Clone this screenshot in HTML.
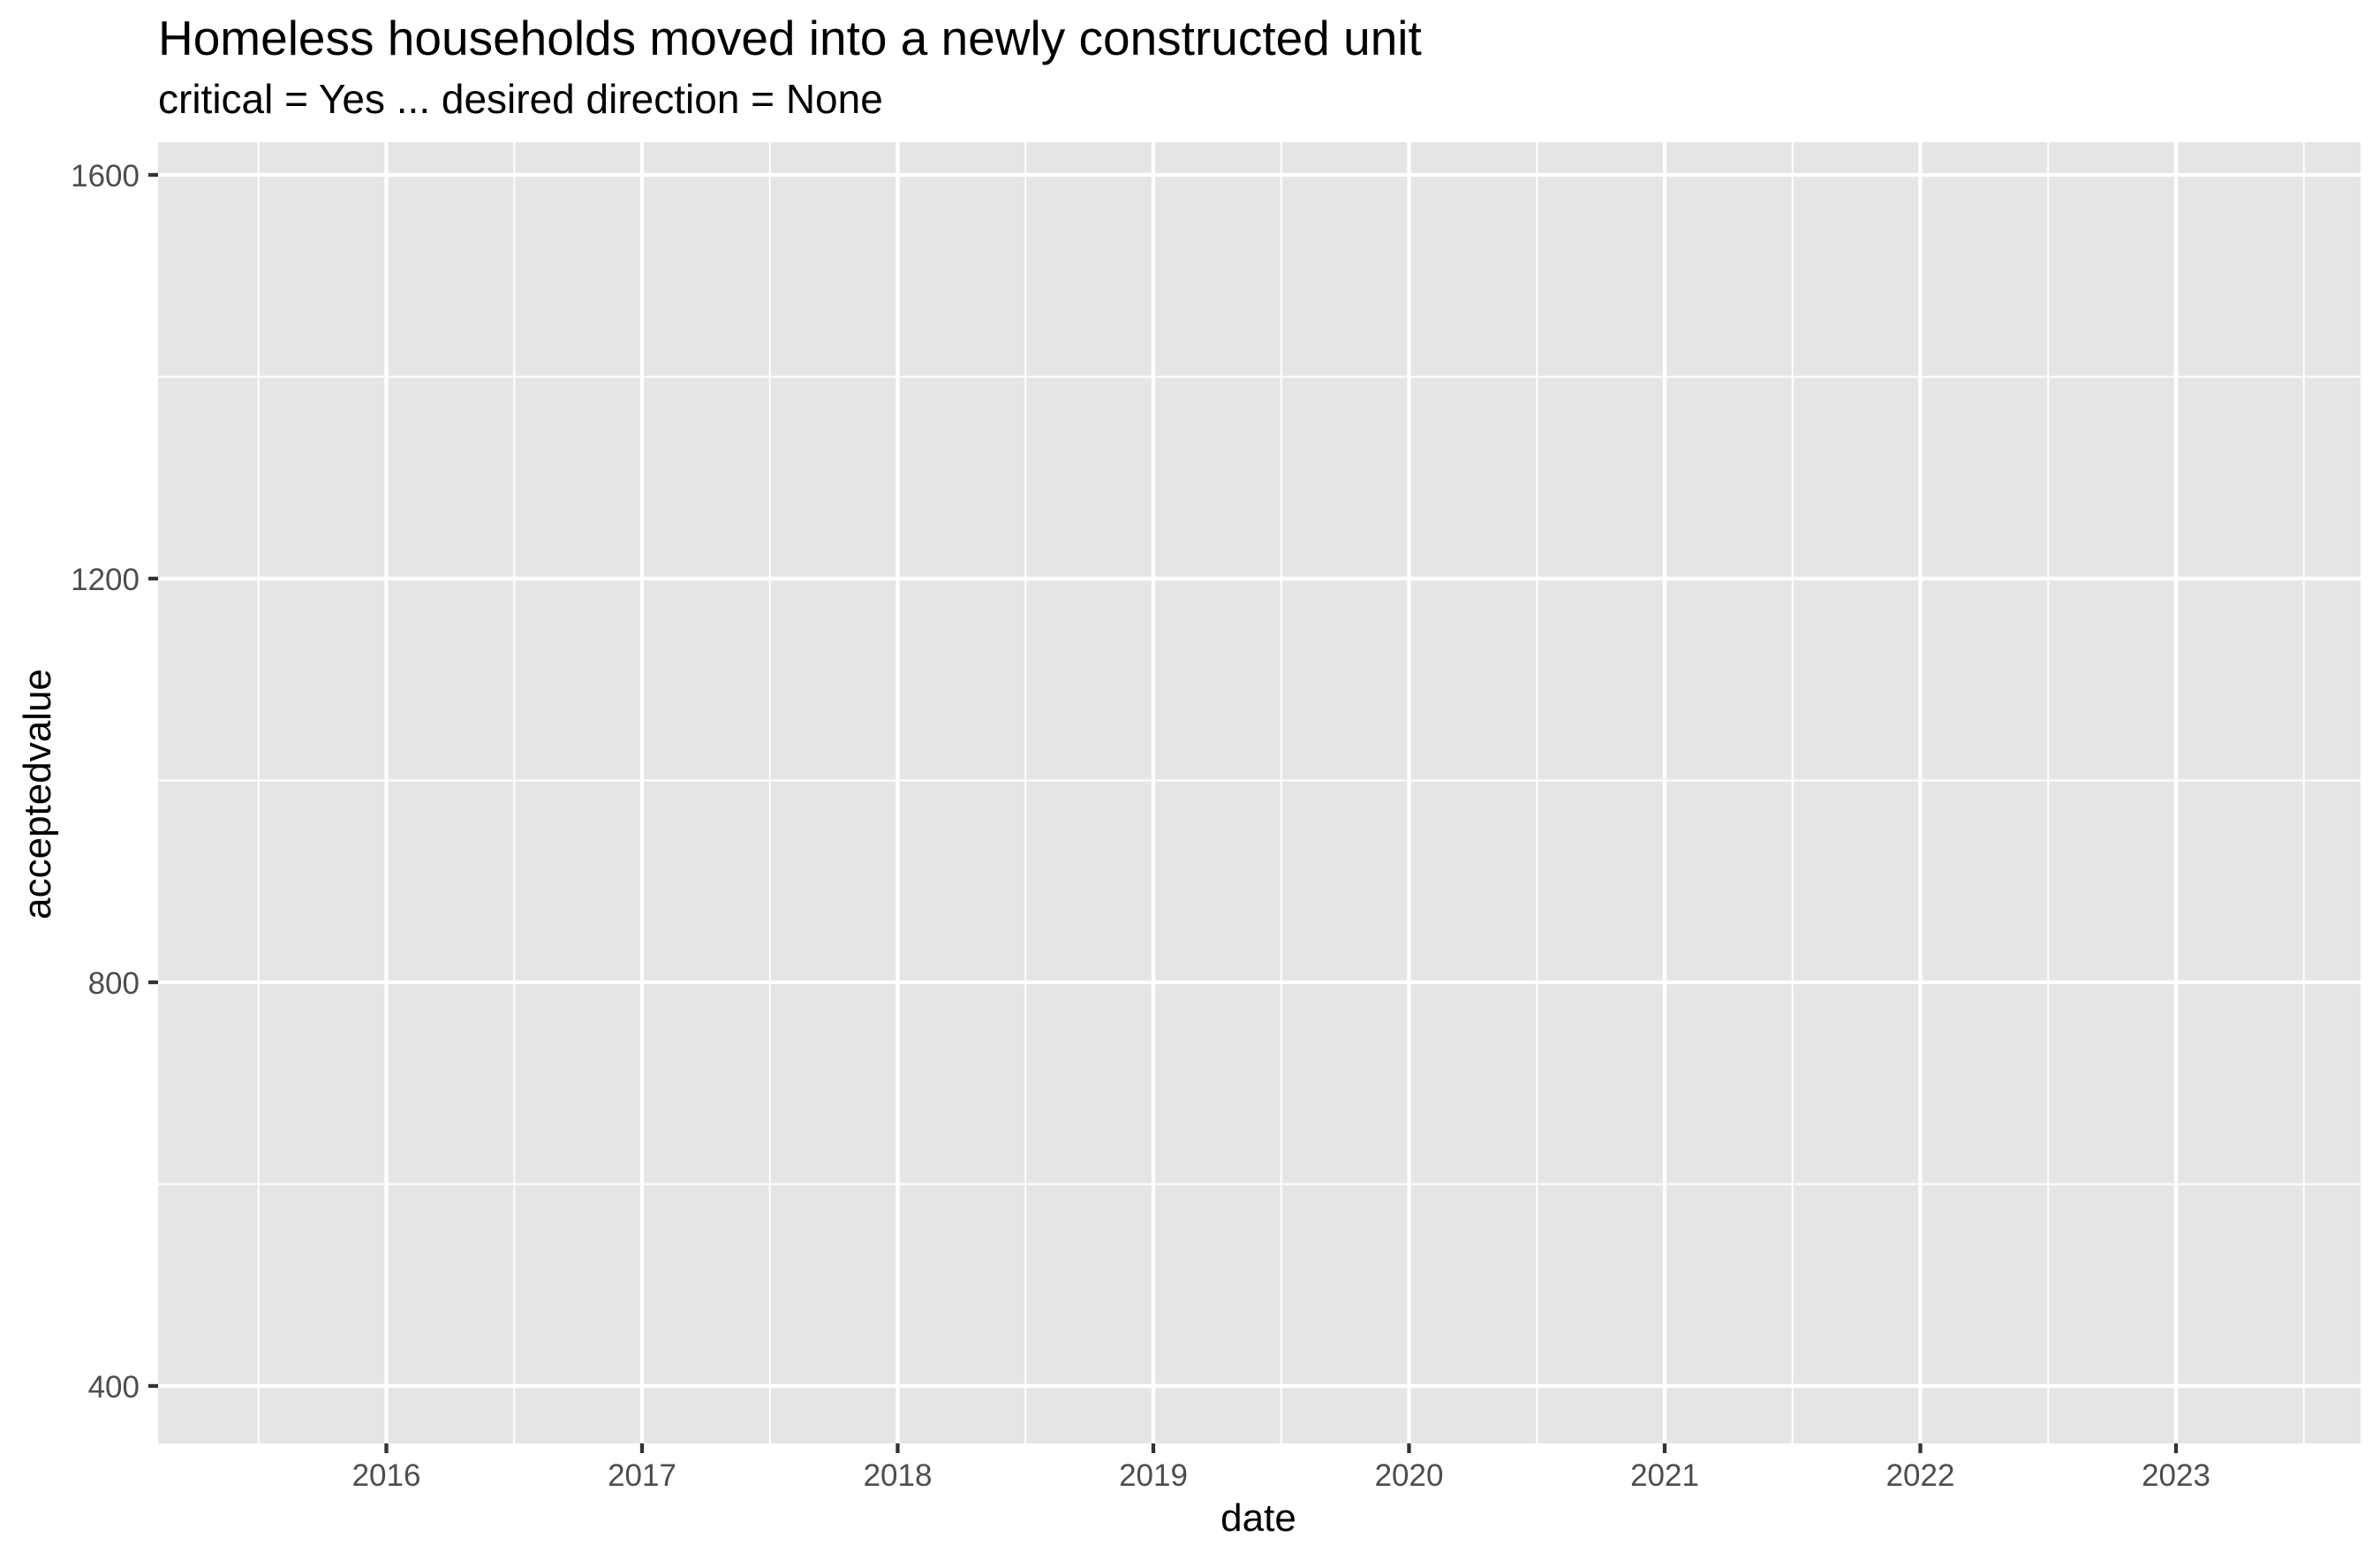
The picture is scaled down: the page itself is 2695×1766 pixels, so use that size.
<!DOCTYPE html>
<html><head><meta charset="utf-8">
<style>
html,body{margin:0;padding:0;background:#fff;}
svg{display:block;font-family:"Liberation Sans",Arial,sans-serif;}
</style></head>
<body>
<svg id="chart" width="2695" height="1766" viewBox="0 0 2695 1766" xmlns="http://www.w3.org/2000/svg">
<rect x="0" y="0" width="2695" height="1766" fill="#fff"/>
<text x="179" y="62" font-size="55" fill="#000">Homeless households moved into a newly constructed unit</text>
<text x="179" y="128" font-size="46" fill="#000">critical = Yes ... desired direction = None</text>
<rect x="179" y="161" width="2494" height="1473" fill="#e5e5e5"/>
<g id="grid"></g>
<g id="axes"></g>
<text x="1425" y="1733" font-size="44" text-anchor="middle" fill="#000">date</text>
<text transform="translate(57,899) rotate(-90)" font-size="44" text-anchor="middle" fill="#000">acceptedvalue</text>
</svg>
<script>
const xTicks = [2016, 2017, 2018, 2019, 2020, 2021, 2022, 2023];
const xMinor = [2015.5, 2016.5, 2017.5, 2018.5, 2019.5, 2020.5, 2021.5, 2022.5, 2023.5];
const yTicks = [400, 800, 1200, 1600];
const yMinor = [600, 1000, 1400];

const PL = 179, PR = 2673, PT = 161, PB = 1634;
const xDom = [2016 - 258.5/289.5, 2016 + (2673-437.5)/289.5];
const yDom = [400 - 65/457*400, 1600 + 37/457*400];
function xS(v){ return PL + (v - xDom[0]) / (xDom[1]-xDom[0]) * (PR-PL); }
function yS(v){ return PB - (v - yDom[0]) / (yDom[1]-yDom[0]) * (PB-PT); }

const NS = "http://www.w3.org/2000/svg";
const grid = document.getElementById('grid');
const axes = document.getElementById('axes');
function mk(tag, attrs, parent){
  const e = document.createElementNS(NS, tag);
  for (const k in attrs) e.setAttribute(k, attrs[k]);
  parent.appendChild(e);
  return e;
}
yMinor.forEach(v=>{
  const l = mk('line',{x1:PL,x2:PR,y1:yS(v),y2:yS(v),stroke:'#fff','stroke-width':2},grid);
  
  
});
xMinor.forEach(v=>{
  const l = mk('line',{x1:xS(v),x2:xS(v),y1:PT,y2:PB,stroke:'#fff','stroke-width':2},grid);
  
  
});
yTicks.forEach(v=>{
  const y = yS(v);
  const l = mk('line',{x1:PL,x2:PR,y1:y,y2:y,stroke:'#fff','stroke-width':4.3},grid);
  
  
  const t = mk('line',{x1:PL-11,x2:PL,y1:y,y2:y,stroke:'#333','stroke-width':4.3},axes);
  
  
  const tx = mk('text',{x:PL-21,y:y+13,'font-size':35,'text-anchor':'end',fill:'#4d4d4d'},axes);
  tx.textContent = String(v);
  
  
});
xTicks.forEach(v=>{
  const x = xS(v);
  const l = mk('line',{x1:x,x2:x,y1:PT,y2:PB,stroke:'#fff','stroke-width':4.3},grid);
  
  
  const t = mk('line',{x1:x,x2:x,y1:PB,y2:PB+11,stroke:'#333','stroke-width':4.3},axes);
  
  
  const tx = mk('text',{x:x,y:1682,'font-size':35,'text-anchor':'middle',fill:'#4d4d4d'},axes);
  tx.textContent = String(v);
  
  
});
</script>
</body></html>
